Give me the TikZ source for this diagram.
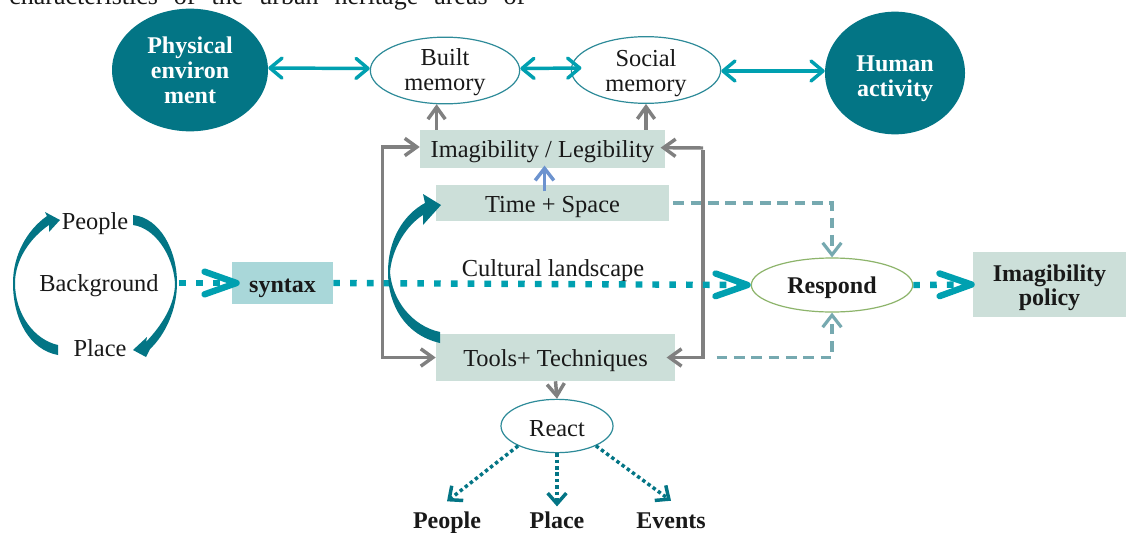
\documentclass[tikz,border=0pt]{standalone}
\usepackage{fontspec}
\setmainfont{Liberation Serif}
\usetikzlibrary{arrows.meta,shapes.geometric,calc}
\definecolor{deepteal}{HTML}{037585}
\definecolor{brightteal}{HTML}{00A0B0}
\definecolor{boxgreen}{HTML}{CCDFD9}
\definecolor{syntaxfill}{HTML}{A9D7D9}
\definecolor{graylink}{HTML}{808080}
\definecolor{bluelink}{HTML}{6C93CF}
\definecolor{dashlink}{HTML}{76A9B0}
\definecolor{ringteal}{HTML}{2E8B99}
\definecolor{ringgreen}{HTML}{8DB46B}
\tikzset{
  x=0.75pt,y=-0.75pt,
  dn/.style={execute at begin node={\rule{0pt}{#1}}},
  txt/.style={font=\fontsize{18.3}{18.8}\selectfont,align=center,inner sep=0pt,text=black!90},
  boldtxt/.style={txt,font=\fontsize{18}{18.8}\selectfont\bfseries},
  bigoval/.style={ellipse,fill=deepteal,boldtxt,text=white,inner sep=0pt},
  oval/.style={ellipse,draw=ringteal,line width=0.9pt,fill=white,txt},
  panel/.style={fill=boxgreen,txt,inner sep=0pt},
  twoway/.style={draw=brightteal,line width=2.6pt,{Straight Barb[length=9pt,width=15pt,round]}-{Straight Barb[length=9pt,width=15pt,round]}},
  graylk/.style={draw=graylink,line width=2.6pt,-{Straight Barb[length=9pt,width=13pt]}},
  graylkboth/.style={draw=graylink,line width=2.6pt,{Straight Barb[length=9pt,width=13pt]}-{Straight Barb[length=9pt,width=13pt]}},
  bluelk/.style={draw=bluelink,line width=2.6pt,-{Straight Barb[length=9pt,width=14pt]}},
  dashlk/.style={draw=dashlink,line width=2.4pt,dash pattern=on 8pt off 5pt,-{Straight Barb[length=9pt,width=14pt]}},
  bigdot/.style={draw=brightteal,line width=4.8pt,dash pattern=on 5pt off 7.6pt,-{Straight Barb[length=24pt,width=17pt,round]}},
  smalldot/.style={draw=deepteal,line width=2.6pt,dash pattern=on 2.6pt off 2.2pt,-{Straight Barb[length=8pt,width=14pt]}},
}
\begin{document}
\begin{tikzpicture}
\clip (0,0) rectangle (1126,532);
\fill[white] (0,0) rectangle (1126,532);
% clipped line of running text at the top
\node[anchor=base west,inner sep=0pt,font=\fontsize{19.5}{20}\selectfont,text=black!90] (hdr) at (9,4.5)
  {\makebox[387pt][s]{characteristics of the urban heritage areas of}};
% top row
\node[bigoval,minimum width=117pt,minimum height=92pt] (phys) at (190,70) {Physical\\environ\\ment};
\node[oval,minimum width=112pt,minimum height=50pt,label={[txt,yshift=-1.1pt]center:{Built\\memory}}] (built) at (445,70.5) {};
\node[oval,minimum width=112pt,minimum height=50pt,label={[txt,yshift=-2.25pt]center:{Social\\memory}}] (social) at (646,70) {};
\node[bigoval,minimum width=105pt,minimum height=92pt,label={[boldtxt,text=white,yshift=-4.1pt]center:{Human\\activity}}] (human) at (895,73) {};
% panels
\node[panel,dn=17pt,minimum width=183.75pt,minimum height=28.5pt] (imag) at (542.5,149) {Imagibility / Legibility};
\node[panel,dn=18.5pt,minimum width=174.75pt,minimum height=27pt] (ts) at (552.5,203) {Time + Space};
\node[panel,dn=17pt,minimum width=179.25pt,minimum height=35.25pt] (tools) at (555.5,357.5) {Tools+ Techniques};
\node[fill=syntaxfill,boldtxt,dn=18.5pt,minimum width=75.75pt,minimum height=31.5pt] (syntax) at (282.5,283) {syntax};
\node[panel,minimum width=114.75pt,minimum height=49pt,label={[boldtxt,font=\fontsize{18}{18}\selectfont\bfseries,yshift=-2.25pt]center:{Imagibility\\policy}}] (policy) at (1049.5,284.5) {};
\node[ellipse,draw=ringgreen,line width=0.9pt,fill=white,boldtxt,dn=17pt,minimum width=121pt,minimum height=40.5pt] (respond) at (832,285) {Respond};
\node[oval,dn=15.5pt,minimum width=84pt,minimum height=40pt] (react) at (557,426) {React};
% left cycle labels
\node[txt,dn=17pt] (lpeople) at (95,221) {People};
\node[txt,dn=17pt,minimum width=120pt] (lback) at (99,283) {Background};
\node[txt] (lplace) at (100,348) {Place};
\node[txt,dn=17pt] (cult) at (553,268) {Cultural landscape};
% bottom labels
\node[boldtxt,dn=17pt,minimum height=16pt] (bpeople) at (447,520) {People};
\node[boldtxt,minimum height=16pt] (bplace) at (557,520) {Place};
\node[boldtxt,dn=14pt,minimum height=16pt] (bevents) at (671,519) {Events};
% teal two-way arrows
\draw[twoway] ([yshift=1.5pt]phys.east) -- ([yshift=1.5pt]built.west);
\draw[twoway] ([yshift=1.5pt]built.east) -- ([xshift=8pt,yshift=1.5pt]social.west);
\draw[twoway] ([yshift=-.75pt]social.east) -- ([yshift=1.5pt]human.west);
% gray links
\draw[graylk] (imag.north -| built.-104) -- (built.-104);
\draw[graylk] (imag.north -| social.south) -- (social.south);
\draw[graylk] (tools.south) -- (react.north);
\draw[graylkboth] ([yshift=1.5pt]imag.west) -- ++(-37,0) |- (tools.west);
\draw[graylk,line cap=butt] (703,148) -- ([xshift=-3.5pt,yshift=1pt]imag.east);
\draw[graylk] (703,150) |- ([xshift=-6.5pt]tools.east);
\draw[bluelk] ([xshift=1.5pt,yshift=-5pt]ts.north -| imag.south) -- ([xshift=1.5pt,yshift=2pt]imag.south);
% dashed links to Respond
\draw[dashlk] ([xshift=3pt]ts.east) -| (respond.north);
\draw[dashlk] ([xshift=31pt]tools.east) -| (respond.south);
% thick dotted main line
\draw[bigdot,shorten >=-6pt] (lback.east) -- (syntax.west);
\draw[bigdot] (syntax.east) -- (respond.west);
\draw[bigdot,shorten >=-1.5pt] (respond.east) -- (policy.west);
% small dotted links
\draw[smalldot] (react.207) -- ([yshift=3.4pt]bpeople.north);
\draw[smalldot] (react.south) -- ([yshift=2pt]bplace.north);
\draw[smalldot] (react.-27) -- ([yshift=5.5pt]bevents.north);
% tapered curved arrows
\fill[deepteal] (58,355) .. controls (30,350) and (13,320) .. (13,283) .. controls (13,255) and (27,230) .. (47,216) -- (45,212) -- (60,220) -- (49,232) -- (49,225) .. controls (30,238) and (15,260) .. (15,283) .. controls (15,315) and (35,340) .. (58,345) -- cycle;
\fill[deepteal] (133,215) .. controls (160,218) and (177,250) .. (177,283) .. controls (177,310) and (165,335) .. (150,349) -- (146,357) -- (133,350) -- (147,337) -- (146,342) .. controls (162,325) and (175,305) .. (175,283) .. controls (173,255) and (155,228) .. (133,225) -- cycle;
\fill[deepteal] (440,343) .. controls (405,335) and (388,305) .. (388,272) .. controls (388,240) and (403,215) .. (425,203) -- (423,194) -- (441,205) -- (423,225) -- (423,215) .. controls (407,225) and (392,248) .. (390,272) .. controls (392,300) and (412,326) .. (440,332) -- cycle;
\end{tikzpicture}
\end{document}
